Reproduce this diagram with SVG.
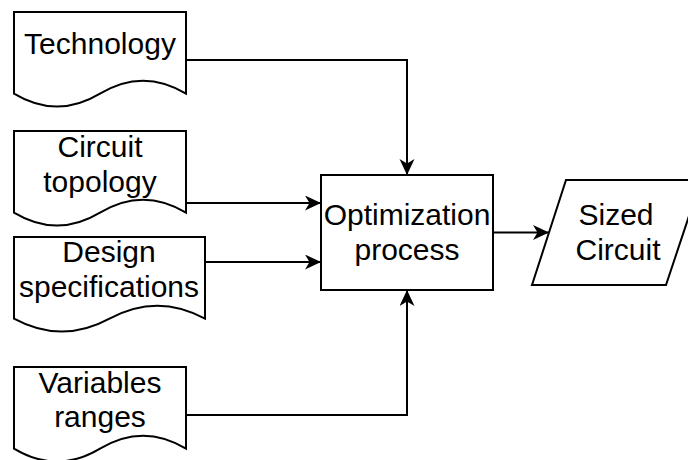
<svg xmlns="http://www.w3.org/2000/svg" width="688" height="460" viewBox="0 0 688 460">
<style>
.shape{fill:#fff;stroke:#000;stroke-width:2;}
.edge{fill:none;stroke:#000;stroke-width:2;}
text{font-family:"Liberation Sans",Arial,Helvetica,sans-serif;font-size:30px;fill:#000;text-anchor:middle;}
</style>
<defs>
<marker id="arrow" markerUnits="userSpaceOnUse" markerWidth="17" markerHeight="16" refX="16" refY="7.5" orient="auto">
<path d="M0,0 L16,7.5 L0,15 L4.5,7.5 Z" fill="#000"/>
</marker>
</defs>
<rect width="688" height="460" fill="#fff"/>
<g id="connectors">
<path class="edge" d="M186,60 H407 V175" marker-end="url(#arrow)"/>
<path class="edge" d="M186,203 H321" marker-end="url(#arrow)"/>
<path class="edge" d="M205,262 H321" marker-end="url(#arrow)"/>
<path class="edge" d="M186,415 H407 V290" marker-end="url(#arrow)"/>
<path class="edge" d="M493,232.5 H549" marker-end="url(#arrow)"/>
</g>
<g id="technology">
<path class="shape" d="M14,12 L186,12 L186,93.6 Q143,67.68 100,93.6 Q57,119.52 14,93.6 Z"/>
<text x="100" y="54">Technology</text>
</g>
<g id="circuit-topology">
<path class="shape" d="M14,131 L186,131 L186,212.6 Q143,186.68 100,212.6 Q57,238.52 14,212.6 Z"/>
<text x="100" y="157">Circuit</text>
<text x="100" y="192">topology</text>
</g>
<g id="design-specifications">
<path class="shape" d="M14,237 L205,237 L205,318.6 Q157.25,292.68 109.5,318.6 Q61.75,344.52 14,318.6 Z"/>
<text x="109" y="262">Design</text>
<text x="109" y="297">specifications</text>
</g>
<g id="variables-ranges">
<path class="shape" d="M14,367 L186,367 L186,448.6 Q143,422.68 100,448.6 Q57,474.52 14,448.6 Z"/>
<text x="100" y="393">Variables</text>
<text x="100" y="427">ranges</text>
</g>
<g id="optimization-process">
<rect class="shape" x="321" y="175" width="172" height="115"/>
<text x="407" y="225">Optimization</text>
<text x="407" y="260">process</text>
</g>
<g id="sized-circuit">
<path class="shape" d="M566,180 L701,180 L666,285 L532,285 Z"/>
<text x="616" y="225">Sized</text>
<text x="618" y="260">Circuit</text>
</g>
</svg>
